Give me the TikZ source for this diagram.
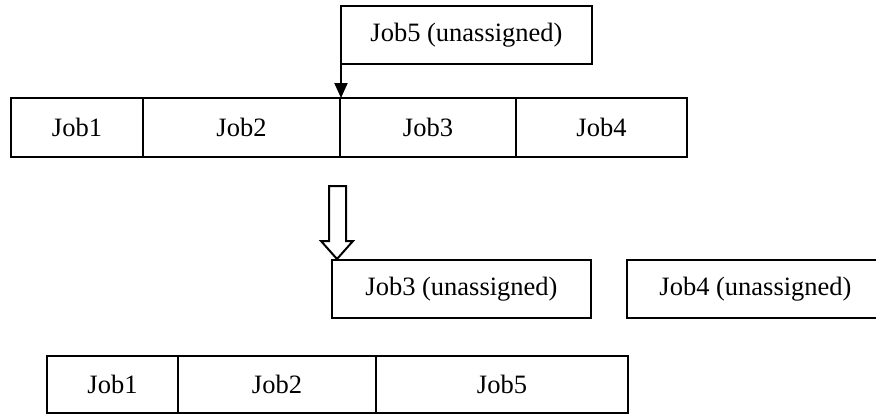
\documentclass[tikz,border=0pt]{standalone}
\usepackage{fontspec}
\setmainfont{Liberation Serif}
\usetikzlibrary{arrows.meta}
\begin{document}
\begin{tikzpicture}[x=1pt,y=-1pt,
  cell/.style={draw,line width=2pt,inner sep=0pt,outer sep=0pt,
    font=\fontsize{26.5}{30}\selectfont},
  rowcell/.style={cell,minimum height=#1},
  link/.style={line width=2pt,-{Triangle[width=13pt,length=15pt]}},
  bigarrow/.style={draw,line width=2pt,fill=white,line join=miter}]
\clip (0,0) rectangle (876,416);
\useasboundingbox (0,0) rectangle (876,416);

% schedule before insertion
\node[rowcell=59,minimum width=132] (a1) at (77,127.5) {Job1};
\node[rowcell=59,minimum width=197] (a2) at (241.5,127.5) {Job2};
\node[rowcell=59,minimum width=176] (a3) at (428,127.5) {Job3};
\node[rowcell=59,minimum width=171] (a4) at (601.5,127.5) {Job4};

% job to insert
\node[rowcell=58,minimum width=251] (u5) at (466.5,35) {Job5 (unassigned)};
\draw[link] (u5.south west) -- (u5.south west |- a3.north west);

% transition arrow
\coordinate (tip) at (337,259);
\draw[bigarrow] (tip) -- ++(-16,-18) -- ++(8,0) -- ++(0,-55) -- ++(17,0)
  -- ++(0,55) -- ++(7,0) -- cycle;

% jobs pushed out
\node[rowcell=58,minimum width=259] (u3) at (461.5,289) {Job3 (unassigned)};
\node[rowcell=58,minimum width=257] (u4) at (755.5,289) {Job4 (unassigned)};

% schedule after insertion
\node[rowcell=57,minimum width=131] (b1) at (112.5,384.5) {Job1};
\node[rowcell=57,minimum width=198] (b2) at (277,384.5) {Job2};
\node[rowcell=57,minimum width=252] (b5) at (502,384.5) {Job5};
\end{tikzpicture}
\end{document}
